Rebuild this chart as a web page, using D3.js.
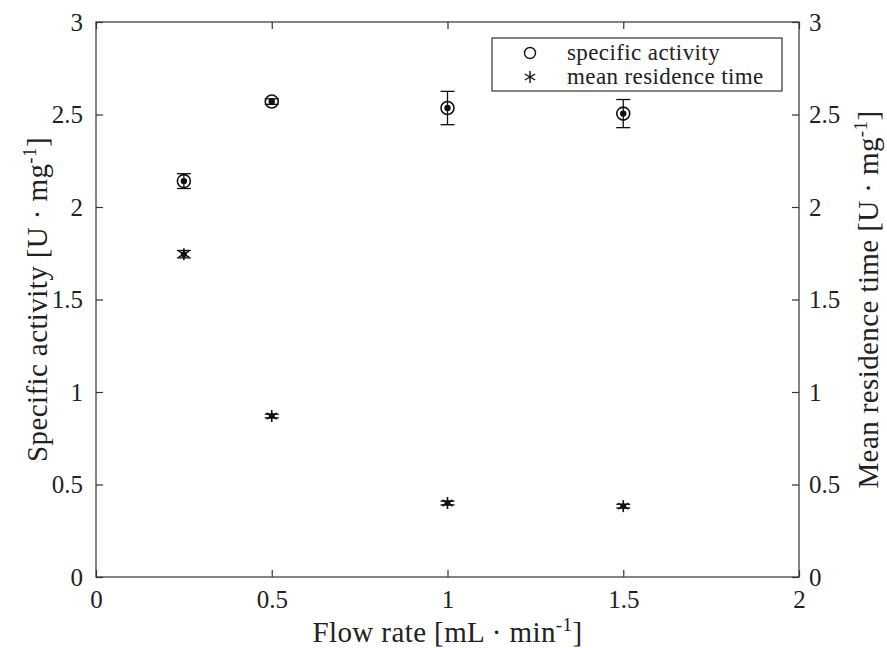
<!DOCTYPE html>
<html>
<head>
<meta charset="utf-8">
<script src="https://cdn.jsdelivr.net/npm/d3@7"></script>
<style>
  body { margin: 0; background: #fff; }
  svg text { font-family: "Liberation Serif", "DejaVu Serif", serif; fill: #222; }
</style>
</head>
<body>
<svg id="chart"></svg>
<script>
// flow rates [mL/min]
const flowRates = [0.25, 0.5, 1, 1.5];
// specific activity [U/mg] and its error
const activity = [2.14, 2.57, 2.535, 2.505];
const activityErr = [0.04, 0.015, 0.09, 0.076];
// mean residence time and its error
const residence = [1.745, 0.87, 0.40, 0.383];
const residenceErr = [0.02, 0.01, 0.01, 0.01];

const xTicks = [0, 0.5, 1, 1.5, 2];
const yTicks = [0, 0.5, 1, 1.5, 2, 2.5, 3];

const W = 887, H = 648;
const pLeft = 96, pRight = 799, pTop = 22, pBottom = 577;

const svg = d3.select('#chart').attr('width', W).attr('height', H);

const xs = d3.scaleLinear().domain([0, 2]).range([pLeft, pRight]);
const ys = d3.scaleLinear().domain([0, 3]).range([pBottom, pTop]);

const axisColor = '#333';
const tickLen = 7;

// frame
svg.append('rect')
  .attr('x', pLeft).attr('y', pTop)
  .attr('width', pRight - pLeft).attr('height', pBottom - pTop)
  .attr('fill', 'none').attr('stroke', axisColor).attr('stroke-width', 1.2);

// axes with inward ticks
function styleAxis(g) {
  g.select('.domain').remove();
  g.selectAll('.tick line').attr('stroke', axisColor).attr('stroke-width', 1.2);
  g.selectAll('.tick text').attr('font-size', 25).attr('font-family', '"Liberation Serif", serif').attr('fill', '#222');
}
const fmt = d => d3.format('~g')(d);

svg.append('g').attr('transform', `translate(0,${pBottom})`)
  .call(d3.axisBottom(xs).tickValues(xTicks).tickFormat(fmt).tickSizeInner(-tickLen).tickSizeOuter(0).tickPadding(13))
  .call(styleAxis);
svg.append('g').attr('transform', `translate(0,${pTop})`)
  .call(d3.axisTop(xs).tickValues(xTicks).tickFormat('').tickSizeInner(-tickLen).tickSizeOuter(0))
  .call(styleAxis);
svg.append('g').attr('transform', `translate(${pLeft},0)`)
  .call(d3.axisLeft(ys).tickValues(yTicks).tickFormat(fmt).tickSizeInner(-tickLen).tickSizeOuter(0).tickPadding(13))
  .call(styleAxis);
svg.append('g').attr('transform', `translate(${pRight},0)`)
  .call(d3.axisRight(ys).tickValues(yTicks).tickFormat(fmt).tickSizeInner(-tickLen).tickSizeOuter(0).tickPadding(10))
  .call(styleAxis);

// axis labels
function labelWithSup(g, pre, sup, post) {
  g.append('tspan').text(pre);
  g.append('tspan').attr('dy', -11).attr('font-size', 19).text(sup);
  g.append('tspan').attr('dy', 11).text(post);
}
const labelSize = 29;
const xl = svg.append('text').attr('x', (pLeft + pRight) / 2).attr('y', 642)
  .attr('text-anchor', 'middle').attr('font-size', labelSize).attr('letter-spacing', 0.4);
labelWithSup(xl, 'Flow rate [mL · min', '-1', ']');

const yl = svg.append('text').attr('transform', `translate(47,${(pTop + pBottom) / 2}) rotate(-90)`)
  .attr('text-anchor', 'middle').attr('font-size', labelSize).attr('letter-spacing', 0.4);
labelWithSup(yl, 'Specific activity [U · mg', '-1', ']');

const yr = svg.append('text').attr('transform', `translate(878,${(pTop + pBottom) / 2}) rotate(-90)`)
  .attr('text-anchor', 'middle').attr('font-size', labelSize).attr('letter-spacing', 0.4);
labelWithSup(yr, 'Mean residence time [U · mg', '-1', ']');

// error bars
function errorBars(vals, errs) {
  const g = svg.append('g').attr('stroke', '#111').attr('stroke-width', 1.3);
  flowRates.forEach((f, i) => {
    const x = xs(f), y0 = ys(vals[i] - errs[i]), y1 = ys(vals[i] + errs[i]);
    g.append('line').attr('x1', x).attr('x2', x).attr('y1', y0).attr('y2', y1);
    g.append('line').attr('x1', x - 7).attr('x2', x + 7).attr('y1', y0).attr('y2', y0);
    g.append('line').attr('x1', x - 7).attr('x2', x + 7).attr('y1', y1).attr('y2', y1);
  });
}
errorBars(activity, activityErr);
errorBars(residence, residenceErr);

// specific activity markers: open circle + dot
const sa = svg.append('g');
sa.selectAll('circle.o').data(flowRates).enter().append('circle')
  .attr('cx', d => xs(d)).attr('cy', (d, i) => ys(activity[i])).attr('r', 6.5)
  .attr('fill', 'none').attr('stroke', '#111').attr('stroke-width', 1.6);
sa.selectAll('circle.d').data(flowRates).enter().append('circle')
  .attr('cx', d => xs(d)).attr('cy', (d, i) => ys(activity[i])).attr('r', 3.2)
  .attr('fill', '#111');

// asterisk marker
function star(g, x, y, r) {
  const s = g.append('g').attr('stroke', '#111').attr('stroke-width', 1.6);
  [0, 60, 120].forEach(a => {
    const rad = a * Math.PI / 180;
    s.append('line')
      .attr('x1', x + r * Math.sin(rad)).attr('y1', y - r * Math.cos(rad))
      .attr('x2', x - r * Math.sin(rad)).attr('y2', y + r * Math.cos(rad));
  });
  s.append('circle').attr('cx', x).attr('cy', y).attr('r', 3).attr('fill', '#111').attr('stroke', 'none');
}
const mr = svg.append('g');
flowRates.forEach((f, i) => star(mr, xs(f), ys(residence[i]), 6));

// legend
const lg = svg.append('g');
lg.append('rect').attr('x', 492).attr('y', 38).attr('width', 290).attr('height', 53)
  .attr('fill', '#fff').attr('stroke', axisColor).attr('stroke-width', 1.2);
lg.append('circle').attr('cx', 530).attr('cy', 53).attr('r', 5.5)
  .attr('fill', 'none').attr('stroke', '#111').attr('stroke-width', 1.4);
const ls = lg.append('g').attr('stroke', '#111').attr('stroke-width', 1.4);
[0, 60, 120].forEach(a => {
  const rad = a * Math.PI / 180, r = 6;
  ls.append('line')
    .attr('x1', 530 + r * Math.sin(rad)).attr('y1', 77 - r * Math.cos(rad))
    .attr('x2', 530 - r * Math.sin(rad)).attr('y2', 77 + r * Math.cos(rad));
});
lg.append('text').attr('x', 567).attr('y', 60).attr('font-size', 23).attr('letter-spacing', 0.4).text('specific activity');
lg.append('text').attr('x', 567).attr('y', 84).attr('font-size', 23).attr('letter-spacing', 0.4).text('mean residence time');
</script>
</body>
</html>
